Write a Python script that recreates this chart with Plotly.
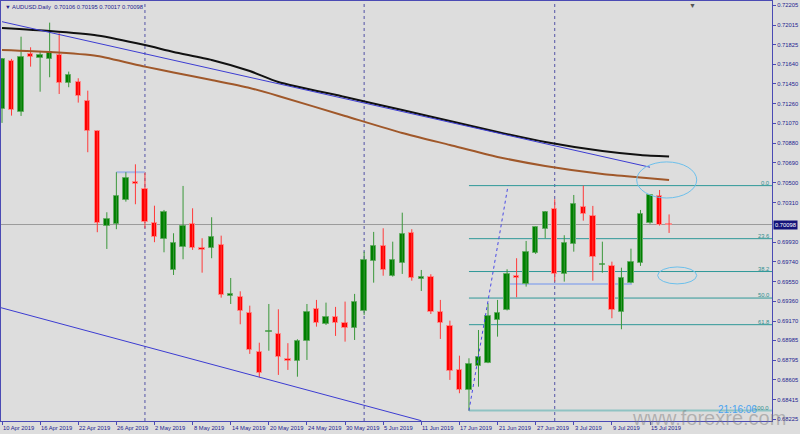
import plotly.graph_objects as go
import pandas as pd

# ---------------- data ----------------
opens = [0.71209, 0.71673, 0.71183, 0.71738, 0.71699, 0.71690, 0.71725, 0.71456, 0.71472, 0.71286,
         0.70998, 0.70087, 0.70106, 0.70331, 0.70510, 0.70437, 0.70110, 0.69956, 0.69658, 0.69882,
         0.70104, 0.69873, 0.69870, 0.69902, 0.69414, 0.69405, 0.69245, 0.68876, 0.69065, 0.69046,
         0.68803, 0.68786, 0.68982, 0.69283, 0.69145, 0.69207, 0.69149, 0.69107, 0.69270, 0.69745,
         0.69895, 0.69604, 0.69729, 0.70014, 0.69575, 0.69597, 0.69257, 0.69126, 0.68700, 0.68508,
         0.68741, 0.68770, 0.69181, 0.69277, 0.69604, 0.69527, 0.69822, 0.70058, 0.70251, 0.69626,
         0.69914, 0.70264, 0.70178, 0.69706, 0.69697, 0.69255, 0.69539, 0.69726, 0.70110, 0.70373,
         0.70106]
highs = [0.71699, 0.71690, 0.71904, 0.71802, 0.71767, 0.72039, 0.71937, 0.71568, 0.71504, 0.71385,
         0.71001, 0.70216, 0.70601, 0.70601, 0.70677, 0.70597, 0.70279, 0.70238, 0.70014, 0.70469,
         0.70254, 0.69966, 0.70168, 0.69991, 0.69584, 0.69456, 0.69318, 0.68962, 0.69334, 0.69283,
         0.68957, 0.68995, 0.69334, 0.69373, 0.69347, 0.69306, 0.69357, 0.69431, 0.69837, 0.70027,
         0.70062, 0.69933, 0.70212, 0.70053, 0.69661, 0.69620, 0.69373, 0.69174, 0.68837, 0.68812,
         0.69084, 0.69341, 0.69373, 0.69668, 0.69774, 0.69940, 0.70078, 0.70228, 0.70341, 0.69995,
         0.70382, 0.70472, 0.70277, 0.69933, 0.69741, 0.69683, 0.69866, 0.70238, 0.70385, 0.70430,
         0.70195]
lows = [0.71075, 0.71145, 0.71142, 0.71616, 0.71375, 0.71514, 0.71353, 0.71418, 0.71270, 0.70793,
        0.70024, 0.69863, 0.70053, 0.70318, 0.70293, 0.70062, 0.69928, 0.69831, 0.69613, 0.69764,
        0.69854, 0.69635, 0.69774, 0.69395, 0.69334, 0.69139, 0.68854, 0.68630, 0.68885, 0.68652,
        0.68700, 0.68635, 0.68796, 0.69116, 0.69132, 0.69027, 0.68972, 0.68988, 0.69229, 0.69539,
        0.69606, 0.69597, 0.69623, 0.69558, 0.69459, 0.69238, 0.68998, 0.68604, 0.68476, 0.68309,
        0.68539, 0.68765, 0.69020, 0.69272, 0.69399, 0.69501, 0.69815, 0.69966, 0.69549, 0.69549,
        0.69837, 0.70135, 0.69558, 0.69635, 0.69197, 0.69091, 0.69533, 0.69700, 0.70105, 0.70088,
        0.70017]
closes = [0.71690, 0.71200, 0.71709, 0.71706, 0.71725, 0.71760, 0.71459, 0.71533, 0.71337, 0.71000,
          0.70116, 0.70149, 0.70373, 0.70543, 0.70485, 0.70126, 0.69981, 0.70222, 0.69924, 0.70087,
          0.69870, 0.69856, 0.69976, 0.69421, 0.69428, 0.69270, 0.68892, 0.68668, 0.69075, 0.68828,
          0.68789, 0.68979, 0.69255, 0.69149, 0.69212, 0.69155, 0.69104, 0.69351, 0.69755, 0.69895,
          0.69661, 0.69757, 0.70004, 0.69581, 0.69591, 0.69260, 0.69149, 0.68690, 0.68508, 0.68758,
          0.68822, 0.69219, 0.69251, 0.69623, 0.69587, 0.69837, 0.70072, 0.70222, 0.69626, 0.69924,
          0.70293, 0.70202, 0.69783, 0.69722, 0.69274, 0.69587, 0.69738, 0.70200, 0.70379, 0.70091,
          0.70098]

dates = list(pd.bdate_range("2019-04-10", periods=len(opens)).strftime("%d %b %Y"))

date_tick_bars = [0, 4, 8, 12, 16, 20, 24, 28, 32, 36, 40, 44, 48, 52, 56, 60, 64, 68]
date_tick_labels = ["10 Apr 2019", "16 Apr 2019", "22 Apr 2019", "26 Apr 2019", "2 May 2019",
                    "8 May 2019", "14 May 2019", "20 May 2019", "24 May 2019", "30 May 2019",
                    "5 Jun 2019", "11 Jun 2019", "17 Jun 2019", "21 Jun 2019", "27 Jun 2019",
                    "3 Jul 2019", "9 Jul 2019", "15 Jul 2019"]
month_sep_bars = [15, 38, 58]

price_ticks = [0.72205, 0.72015, 0.71825, 0.71640, 0.71450, 0.71260, 0.71070, 0.70880, 0.70690,
               0.70500, 0.70310, 0.69930, 0.69740, 0.69550, 0.69360, 0.69170, 0.68985, 0.68795,
               0.68605, 0.68415, 0.68225]

ma_bars = [0, 5, 10, 15, 18, 22, 26, 29, 36, 42, 47, 52, 57, 63, 67, 70]
ma_black = [0.71988, 0.71959, 0.71916, 0.71824, 0.71757, 0.71680, 0.71574, 0.71469, 0.71324,
            0.71199, 0.71094, 0.70988, 0.70892, 0.70805, 0.70767, 0.70752]
ma_brown = [0.71776, 0.71757, 0.71719, 0.71616, 0.71560, 0.71488, 0.71411, 0.71334, 0.71142,
            0.70978, 0.70863, 0.70748, 0.70661, 0.70584, 0.70551, 0.70527]

upper_trend_bars = [0, 68]
upper_trend_vals = [0.72048, 0.70649]
lower_trend_bars = [-0.1, 44]
lower_trend_vals = [0.69298, 0.68212]
fib_ray_bars = [49, 53.1]
fib_ray_vals = [0.68309, 0.70472]

fib_labels = ["0.0", "23.6", "38.2", "50.0", "61.8", "100.0"]
fib_prices = [0.70472, 0.69962, 0.69646, 0.69391, 0.69135, 0.68309]
fib_start_bar = 49

hline_segments = [(12, 15, 0.70601), (53.3, 66.1, 0.69527)]
ellipses = [(66.6, 72.9, 0.70353, 0.70700), (68.8, 72.9, 0.69527, 0.69690)]

last_price = 0.70098
title_text = "AUDUSD.Daily  0.70106 0.70195 0.70017 0.70098"

# ---------------- styling ----------------
BG = "#dddddd"
AX = "#4a4ab4"
TXT = "#23238f"
FONT = "Liberation Sans, Arial, sans-serif"
FS = 5.8
X_RANGE = [-0.105, 80.8]
Y_RANGE = [0.68209, 0.72247]

fig = go.Figure()

n = len(opens)
idx = list(range(n))

# wicks
for up in (True, False):
    wx, wy = [], []
    for i in idx:
        if (closes[i] >= opens[i]) == up:
            wx += [i, i, None]
            wy += [lows[i], highs[i], None]
    fig.add_trace(go.Scatter(x=wx, y=wy, mode="lines",
                             line=dict(color="#3a973a" if up else "#ff3a3a", width=1),
                             hoverinfo="skip"))

# bodies
for up in (True, False):
    bx, bb, bh, txt = [], [], [], []
    for i in idx:
        if (closes[i] >= opens[i]) == up:
            lo = min(opens[i], closes[i])
            h = abs(closes[i] - opens[i])
            bx.append(i)
            bb.append(lo)
            bh.append(max(h, 0.00006))
            txt.append(dates[i])
    fig.add_trace(go.Bar(x=bx, y=bh, base=bb, width=0.56,
                         marker=dict(color="#008000" if up else "#ff0000",
                                     line=dict(color="#66ac66" if up else "#ff8c8c", width=1)),
                         hovertext=txt, hoverinfo="text"))

# moving averages
fig.add_trace(go.Scatter(x=ma_bars, y=ma_black, mode="lines", line=dict(color="#111111", width=2, shape="spline", smoothing=0.6), hoverinfo="skip"))
fig.add_trace(go.Scatter(x=ma_bars, y=ma_brown, mode="lines", line=dict(color="#a0582a", width=2, shape="spline", smoothing=0.6), hoverinfo="skip"))

# trend lines
fig.add_trace(go.Scatter(x=upper_trend_bars, y=upper_trend_vals, mode="lines", line=dict(color="#3c3cd2", width=1), hoverinfo="skip"))
fig.add_trace(go.Scatter(x=lower_trend_bars, y=lower_trend_vals, mode="lines", line=dict(color="#3c3cd2", width=1), hoverinfo="skip"))
fig.add_trace(go.Scatter(x=fib_ray_bars, y=fib_ray_vals, mode="lines", line=dict(color="#4a4ae6", width=1, dash="dot"), hoverinfo="skip"))

shapes = []
for b in month_sep_bars:
    shapes.append(dict(type="line", xref="x", yref="paper", x0=b, x1=b, y0=0, y1=1,
                       line=dict(color="#5252a6", width=1, dash="dot"), layer="below"))
shapes.append(dict(type="line", xref="paper", yref="y", x0=0, x1=1, y0=last_price, y1=last_price,
                   line=dict(color="#9a9a9a", width=1), layer="below"))
for lab, pr in zip(fib_labels, fib_prices):
    last = lab == "100.0"
    shapes.append(dict(type="line", xref="x", yref="y", x0=fib_start_bar, x1=X_RANGE[1], y0=pr, y1=pr,
                       line=dict(color="#8fc3c3" if last else "#2f9898", width=2 if last else 1), layer="below"))
for x0, x1, yv in hline_segments:
    shapes.append(dict(type="line", xref="x", yref="y", x0=x0, x1=x1, y0=yv, y1=yv,
                       line=dict(color="#a6b8e6", width=2), layer="below"))
for x0, x1, y0, y1 in ellipses:
    shapes.append(dict(type="circle", xref="x", yref="y", x0=x0, x1=x1, y0=y0, y1=y1,
                       line=dict(color="#6cc0ec", width=1), layer="above"))

annotations = []
for b, lab in zip(date_tick_bars, date_tick_labels):
    annotations.append(dict(x=b, y=0, xref="x", yref="paper", text=lab, showarrow=False,
                            xanchor="left", yanchor="top", xshift=-1, yshift=-2,
                            font=dict(family=FONT, size=FS, color=TXT)))
for lab, pr in zip(fib_labels, fib_prices):
    annotations.append(dict(x=1, y=pr, xref="paper", yref="y", text=lab, showarrow=False,
                            xanchor="right", yanchor="bottom", xshift=-1, yshift=-2,
                            font=dict(family=FONT, size=FS, color="#2f8f8f")))
annotations.append(dict(x=0, y=1, xref="paper", yref="paper", text="▼ " + title_text, showarrow=False,
                        xanchor="left", yanchor="top", xshift=2, yshift=-1,
                        font=dict(family=FONT, size=FS, color=TXT)))
annotations.append(dict(x=1, y=last_price, xref="paper", yref="y", text="0.70098", showarrow=False,
                        xanchor="left", yanchor="middle", xshift=1, bgcolor="#14147a", borderpad=1,
                        font=dict(family=FONT, size=FS, color="#ffffff")))
annotations.append(dict(x=0.816, y=0.007, xref="paper", yref="paper", text="www.forexre.com", showarrow=False,
                        xanchor="left", yanchor="middle",
                        font=dict(family=FONT, size=20, color="rgba(120,120,120,0.45)")))
annotations.append(dict(x=0.928, y=0.027, xref="paper", yref="paper", text="21:16:06", showarrow=False,
                        xanchor="left", yanchor="middle",
                        font=dict(family=FONT, size=10, color="#4aa3f0")))
annotations.append(dict(x=0.8975, y=1, xref="paper", yref="paper", text="▼", showarrow=False,
                        xanchor="center", yanchor="top", yshift=1,
                        font=dict(family=FONT, size=7, color="#555555")))

fig.update_layout(
    width=800, height=434,
    margin=dict(l=1, r=28, t=1, b=13),
    paper_bgcolor=BG, plot_bgcolor=BG,
    showlegend=False, barmode="overlay", bargap=0,
    shapes=shapes, annotations=annotations,
    font=dict(family=FONT, size=FS, color=TXT),
    xaxis=dict(range=X_RANGE, showgrid=False, zeroline=False, showline=True, linecolor=AX, linewidth=1,
               mirror=True, ticks="outside", ticklen=3, tickcolor=AX, tickvals=date_tick_bars,
               showticklabels=False, fixedrange=True),
    yaxis=dict(range=Y_RANGE, side="right", showgrid=False, zeroline=False, showline=True, linecolor=AX,
               linewidth=1, mirror=True, ticks="outside", ticklen=3, tickcolor=AX, tickvals=price_ticks,
               tickformat=".5f", tickfont=dict(family=FONT, size=FS, color=TXT), fixedrange=True,
               automargin=False),
)

fig.write_html("out.html", config={"displayModeBar": False},
               post_script="document.body.style.margin='0';document.body.style.padding='0';"
                           "document.body.style.overflow='hidden';document.body.style.background='#dddddd';")
